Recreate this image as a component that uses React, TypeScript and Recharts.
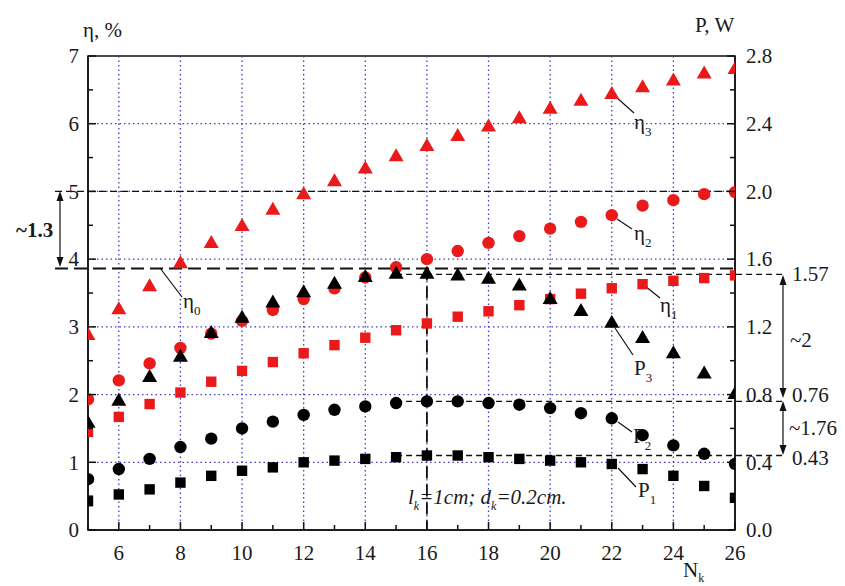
import React from 'react';
import { ScatterChart, Scatter, XAxis, YAxis, ReferenceLine, ReferenceArea } from 'recharts';

// ---------- data ----------
const N = [5, 6, 7, 8, 9, 10, 11, 12, 13, 14, 15, 16, 17, 18, 19, 20, 21, 22, 23, 24, 25, 26];
// efficiency, %
const eta3 = [2.87, 3.25, 3.59, 3.93, 4.23, 4.48, 4.72, 4.95, 5.14, 5.33, 5.51, 5.66, 5.81, 5.95, 6.07, 6.21, 6.33, 6.43, 6.53, 6.63, 6.73, 6.8];
const eta2 = [1.93, 2.21, 2.46, 2.69, 2.9, 3.09, 3.25, 3.41, 3.57, 3.73, 3.88, 4.0, 4.12, 4.24, 4.34, 4.45, 4.55, 4.65, 4.79, 4.87, 4.96, 4.99];
const eta1 = [1.45, 1.67, 1.86, 2.03, 2.19, 2.35, 2.48, 2.61, 2.73, 2.84, 2.95, 3.05, 3.15, 3.23, 3.32, 3.41, 3.49, 3.57, 3.63, 3.68, 3.72, 3.76];
// power, W
const P3 = [0.63, 0.76, 0.9, 1.02, 1.16, 1.25, 1.34, 1.4, 1.45, 1.49, 1.51, 1.51, 1.5, 1.48, 1.44, 1.36, 1.29, 1.22, 1.13, 1.04, 0.92, 0.8];
const P2 = [0.3, 0.36, 0.42, 0.49, 0.54, 0.6, 0.64, 0.68, 0.71, 0.73, 0.75, 0.76, 0.76, 0.75, 0.74, 0.72, 0.69, 0.66, 0.56, 0.5, 0.45, 0.39];
const P1 = [0.17, 0.21, 0.24, 0.28, 0.32, 0.35, 0.37, 0.4, 0.41, 0.42, 0.43, 0.44, 0.44, 0.43, 0.42, 0.41, 0.4, 0.39, 0.36, 0.32, 0.26, 0.19];
const eta0 = 3.86;
const etaRef = 5;
const Nmark = 16;

// ticks
const leftTicks = [0, 0.5, 1, 1.5, 2, 2.5, 3, 3.5, 4, 4.5, 5, 5.5, 6, 6.5, 7];
const rightTicks = [0, 0.2, 0.4, 0.6, 0.8, 1.0, 1.2, 1.4, 1.6, 1.8, 2.0, 2.2, 2.4, 2.6, 2.8];
const gridX = [6, 8, 10, 12, 14, 16, 18, 20, 22, 24];
const gridY = [1, 2, 3, 4, 5, 6];

const rows = (vals: number[]) => N.map((n, i) => ({ N: n, v: vals[i] }));

const FONT = "'Liberation Serif', 'Times New Roman', serif";
const RED = '#ea1a1a';
const INK = '#111';
const GRID = '#3c3cc8';
const FS = 21;
const TS: React.CSSProperties = { fontFamily: FONT, fontSize: FS, fill: '#1a1a1a' };

// ---------- shapes ----------
const tri = (color: string) => (p: any) => {
  const w = 15, h = 13;
  return <path d={`M${p.cx},${p.cy - (h * 2) / 3}L${p.cx + w / 2},${p.cy + h / 3}L${p.cx - w / 2},${p.cy + h / 3}Z`} fill={color} />;
};
const circ = (color: string) => (p: any) => <circle cx={p.cx} cy={p.cy} r={6.2} fill={color} />;
const sq = (color: string) => (p: any) => <rect x={p.cx - 5.2} y={p.cy - 5.2} width={10.4} height={10.4} fill={color} />;

// ---------- ticks ----------
const LeftTick = (props: any) => {
  const { x, y, payload } = props;
  const v = payload.value;
  const major = Math.abs(v - Math.round(v)) < 1e-6;
  const ax = x + 9;
  return (
    <g>
      <line x1={ax} x2={ax + (major ? 8 : 5)} y1={y} y2={y} stroke={INK} strokeWidth={1.5} />
      {major && (
        <text x={x} y={y} dy="0.35em" textAnchor="end" style={TS}>
          {v}
        </text>
      )}
    </g>
  );
};
const RightTick = (props: any) => {
  const { x, y, payload, index } = props;
  const v = payload.value;
  const major = index % 2 === 0;
  const ax = x - 11;
  return (
    <g>
      <line x1={ax} x2={ax - (major ? 8 : 5)} y1={y} y2={y} stroke={INK} strokeWidth={1.5} />
      {major && (
        <text x={x} y={y} dy="0.35em" textAnchor="start" style={TS}>
          {Number(v).toFixed(1)}
        </text>
      )}
    </g>
  );
};
const BottomTick = (props: any) => {
  const { x, y, payload } = props;
  const v = payload.value;
  const major = v % 2 === 0;
  const ay = y - 8;
  return (
    <g>
      <line x1={x} x2={x} y1={ay} y2={ay - (major ? 8 : 5)} stroke={INK} strokeWidth={1.5} />
      {major && (
        <text x={x} y={y} dy={22} textAnchor="middle" style={TS}>
          {v}
        </text>
      )}
    </g>
  );
};

// ---------- annotations (pixel layout) ----------
const Up = ({ x, y }: { x: number; y: number }) => <path d={`M${x},${y}L${x + 3.5},${y + 10}L${x - 3.5},${y + 10}Z`} fill={INK} />;
const Down = ({ x, y }: { x: number; y: number }) => <path d={`M${x},${y}L${x + 3.5},${y - 10}L${x - 3.5},${y - 10}Z`} fill={INK} />;

const Lbl = ({ x, y, main, sub }: { x: number; y: number; main: string; sub: string }) => (
  <text x={x} y={y} style={TS}>
    {main}
    <tspan dy={7} style={{ fontSize: 13 }}>{sub}</tspan>
  </text>
);

const Annotations = () => (
  <g>
    {/* leader lines */}
    <g stroke={INK} strokeWidth={1.2}>
      <line x1={616} y1={97} x2={634} y2={113} />
      <line x1={617} y1={219} x2={632} y2={229} />
      <line x1={645} y1={286} x2={660} y2={298} />
      <line x1={615} y1={328} x2={633} y2={355} />
      <line x1={618} y1={422} x2={632} y2={432} />
      <line x1={618} y1={468} x2={636} y2={487} />
      <line x1={160} y1={268} x2={182} y2={297} />
    </g>
    <Lbl x={634} y={129} main="η" sub="3" />
    <Lbl x={634} y={240} main="η" sub="2" />
    <Lbl x={660} y={312} main="η" sub="1" />
    <Lbl x={634} y={375} main="P" sub="3" />
    <Lbl x={633} y={443} main="P" sub="2" />
    <Lbl x={638} y={497} main="P" sub="1" />
    <Lbl x={183} y={308} main="η" sub="0" />

    {/* left arrow ~1.3 */}
    <line x1={60} y1={195} x2={60} y2={263} stroke={INK} strokeWidth={1.2} />
    <Up x={60} y={191} />
    <Down x={60} y={267} />
    <text x={16} y={237} style={{ ...TS, fontWeight: 'bold' }}>~1.3</text>

    {/* right arrows */}
    <line x1={783} y1={279} x2={783} y2={394} stroke={INK} strokeWidth={1.2} />
    <Up x={783} y={275} />
    <Down x={783} y={398} />
    <line x1={783} y1={405} x2={783} y2={451} stroke={INK} strokeWidth={1.2} />
    <Up x={783} y={401} />
    <Down x={783} y={455} />
    <text x={792} y={281} style={TS}>1.57</text>
    <text x={790} y={347} style={TS}>~2</text>
    <text x={792} y={402} style={TS}>0.76</text>
    <text x={789} y={435} style={TS}>~1.76</text>
    <text x={792} y={465} style={TS}>0.43</text>

    {/* axis titles */}
    <text x={83} y={37} style={TS}>η, %</text>
    <text x={695} y={32} style={TS}>P, W</text>
    <text x={683} y={577} style={TS}>
      N<tspan dy={5} style={{ fontSize: 12 }}>k</tspan>
    </text>

    {/* parameters */}
    <text x={408} y={504} style={{ ...TS, fontStyle: 'italic' }}>
      l<tspan dy={6} style={{ fontSize: 12 }}>k</tspan>
      <tspan dy={-6}>=1cm; d</tspan>
      <tspan dy={6} style={{ fontSize: 12 }}>k</tspan>
      <tspan dy={-6}>=0.2cm.</tspan>
    </text>
  </g>
);

export default function App() {
  const p3max = Math.max(...P3);
  const p2max = Math.max(...P2);
  const p1max = Math.max(...P1);
  const dash = { stroke: INK, strokeWidth: 1.3, strokeDasharray: '6 4' };
  return (
    <div style={{ position: 'absolute', left: 0, top: 0, width: 845, height: 586, background: '#fff' }}>
      <ScatterChart width={845} height={586} margin={{ top: 56, right: 50, bottom: 26, left: 48 }}>
        <XAxis
          dataKey="N"
          type="number"
          domain={[5, 26]}
          ticks={N}
          interval={0}
          allowDataOverflow
          height={30}
          tickSize={0}
          tickMargin={8}
          tickLine={false}
          tick={<BottomTick />}
          axisLine={{ stroke: INK, strokeWidth: 1.5 }}
        />
        <YAxis
          yAxisId="L"
          type="number"
          domain={[0, 7]}
          ticks={leftTicks}
          interval={0}
          allowDataOverflow
          width={40}
          tickSize={0}
          tickMargin={9}
          tickLine={false}
          tick={<LeftTick />}
          axisLine={{ stroke: INK, strokeWidth: 1.5 }}
        />
        <YAxis
          yAxisId="R"
          orientation="right"
          type="number"
          domain={[0, 2.8]}
          ticks={rightTicks}
          interval={0}
          allowDataOverflow
          width={60}
          tickSize={0}
          tickMargin={11}
          tickLine={false}
          tick={<RightTick />}
          axisLine={{ stroke: INK, strokeWidth: 1.5 }}
        />

        {gridX.map((g) => (
          <ReferenceLine key={'gx' + g} x={g} yAxisId="L" stroke={GRID} strokeWidth={1.3} strokeDasharray="1.5 3" />
        ))}
        {gridY.map((g) => (
          <ReferenceLine key={'gy' + g} y={g} yAxisId="L" stroke={GRID} strokeWidth={1.3} strokeDasharray="1.5 3" />
        ))}

        <ReferenceArea x1={5} x2={26} y1={0} y2={7} yAxisId="L" fill="none" stroke={INK} strokeWidth={1.5} />

        {/* reference dashed lines */}
        <ReferenceLine
          yAxisId="L"
          ifOverflow="visible"
          segment={[{ x: 3.93, y: etaRef }, { x: 26, y: etaRef }]}
          stroke={INK}
          strokeWidth={1.2}
          strokeDasharray="7 4"
        />
        <ReferenceLine
          yAxisId="L"
          ifOverflow="visible"
          segment={[{ x: 3.93, y: eta0 }, { x: 26, y: eta0 }]}
          stroke={INK}
          strokeWidth={2}
          strokeDasharray="13 6"
        />
        <ReferenceLine
          yAxisId="L"
          ifOverflow="visible"
          segment={[{ x: Nmark, y: eta0 }, { x: Nmark, y: 0 }]}
          stroke={INK}
          strokeWidth={1.8}
          strokeDasharray="12 6"
        />
        <ReferenceLine yAxisId="R" ifOverflow="visible" segment={[{ x: 15, y: p3max }, { x: 27.62, y: p3max }]} {...dash} />
        <ReferenceLine yAxisId="R" ifOverflow="visible" segment={[{ x: 15, y: p2max }, { x: 27.62, y: p2max }]} {...dash} />
        <ReferenceLine yAxisId="R" ifOverflow="visible" segment={[{ x: 15, y: p1max }, { x: 27.62, y: p1max }]} {...dash} />

        <Scatter data={rows(eta3)} dataKey="v" yAxisId="L" shape={tri(RED)} isAnimationActive={false} />
        <Scatter data={rows(eta2)} dataKey="v" yAxisId="L" shape={circ(RED)} isAnimationActive={false} />
        <Scatter data={rows(eta1)} dataKey="v" yAxisId="L" shape={sq(RED)} isAnimationActive={false} />
        <Scatter data={rows(P3)} dataKey="v" yAxisId="R" shape={tri('#000')} isAnimationActive={false} />
        <Scatter data={rows(P2)} dataKey="v" yAxisId="R" shape={circ('#000')} isAnimationActive={false} />
        <Scatter data={rows(P1)} dataKey="v" yAxisId="R" shape={sq('#000')} isAnimationActive={false} />

        <Annotations />
      </ScatterChart>
    </div>
  );
}
